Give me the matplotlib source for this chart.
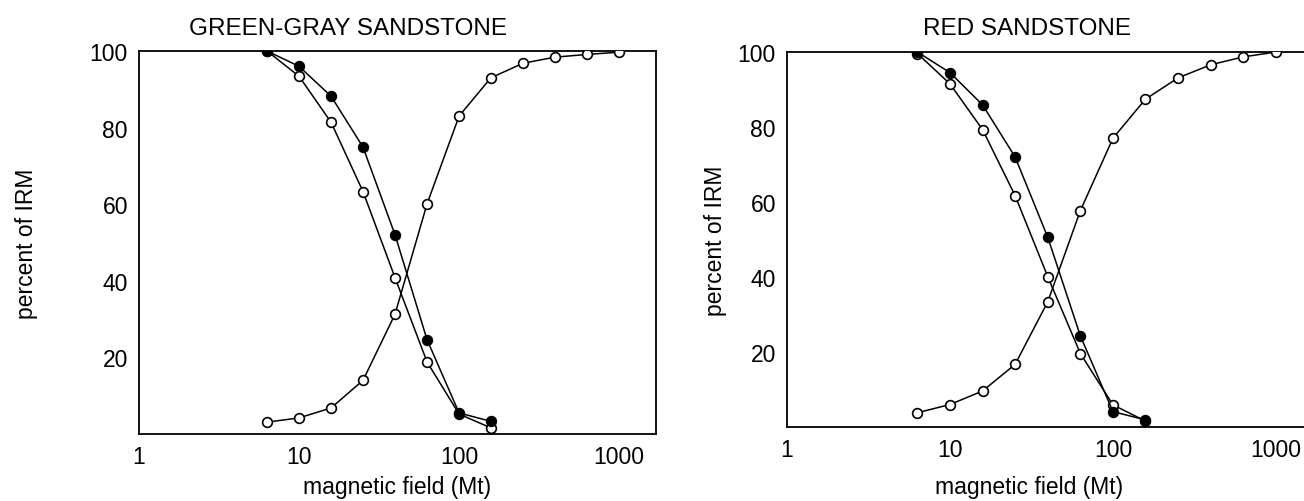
import numpy as np
import matplotlib
matplotlib.use("Agg")
import matplotlib.pyplot as plt

plt.rcParams["font.family"] = ["Liberation Sans", "DejaVu Sans"]

# applied field steps (mT), 0.2 log-decade apart
field = [6.31, 10, 15.85, 25.1, 39.8, 63.1, 100, 158, 251, 398, 631, 1000]
n_af = 8  # demagnetization curves stop at ~158 mT

# green-gray sandstone, percent of IRM
gg_filled = [100, 96.0, 88.2, 74.9, 52.0, 24.6, 5.5, 3.3]
gg_open_down = [100, 93.4, 81.4, 63.3, 40.8, 18.8, 5.2, 1.6]
gg_open_up = [3.1, 4.2, 6.8, 14.0, 31.3, 60.1, 83.0, 93.0, 96.8, 98.4, 99.1, 99.7]

# red sandstone, percent of IRM
red_filled = [100, 94.5, 85.9, 72.0, 50.6, 24.3, 4.1, 1.9]
red_open_down = [99.6, 91.5, 79.3, 61.7, 40.1, 19.6, 5.9, 1.6]
red_open_up = [3.8, 6.0, 9.6, 16.7, 33.4, 57.7, 77.0, 87.4, 93.1, 96.6, 98.7, 100]

xticks = [1, 10, 100, 1000]
xtick_labels = ["1", "10", "100", "1000"]
yticks = [20, 40, 60, 80, 100]

W, H = 1304, 502
fig = plt.figure(figsize=(W / 100, H / 100), dpi=100)


def px_axes(left, right, top, bottom):
    return fig.add_axes([left / W, (H - bottom) / H, (right - left) / W, (bottom - top) / H])


def draw_panel(ax, filled, open_down, open_up, xmax, ylabel_x, xlabel_pos):
    x_af = field[:n_af]
    ax.plot(x_af, open_down, color="black", lw=1.1, marker="o", ms=7,
            mfc="white", mec="black", mew=1.2, zorder=3)
    ax.plot(x_af, filled, color="black", lw=1.1, marker="o", ms=7,
            mfc="black", mec="black", mew=1.2, zorder=4)
    ax.plot(field, open_up, color="black", lw=1.1, marker="o", ms=7,
            mfc="white", mec="black", mew=1.2, zorder=3)
    ax.set_xscale("log")
    ax.set_xlim(1, xmax)
    ax.set_ylim(0, 100)
    ax.set_xticks(xticks)
    ax.set_xticklabels(xtick_labels)
    ax.minorticks_off()
    ax.set_yticks(yticks)
    ax.tick_params(length=0, labelsize=16.5, pad=8)
    for s in ax.spines.values():
        s.set_linewidth(1.3)
    ax.set_xlabel("magnetic field (Mt)", fontsize=16.5)
    ax.set_ylabel("percent of IRM", fontsize=16.5)
    ax.xaxis.set_label_coords(*xlabel_pos)
    ax.yaxis.set_label_coords(ylabel_x, 0.5)


ax1 = px_axes(139, 656, 52, 435)
draw_panel(ax1, gg_filled, gg_open_down, gg_open_up, 1700, -0.196, (0.5, -0.108))

ax2 = px_axes(787, 1325, 53, 428)
draw_panel(ax2, red_filled, red_open_down, red_open_up, 2000, -0.112, (0.45, -0.128))

fig.text(348 / W, 1 - 29 / H, "GREEN-GRAY SANDSTONE", fontsize=17.5,
         ha="center", va="center")
fig.text(1027 / W, 1 - 29 / H, "RED SANDSTONE", fontsize=17.5,
         ha="center", va="center")

fig.savefig("out.png", dpi=100)
